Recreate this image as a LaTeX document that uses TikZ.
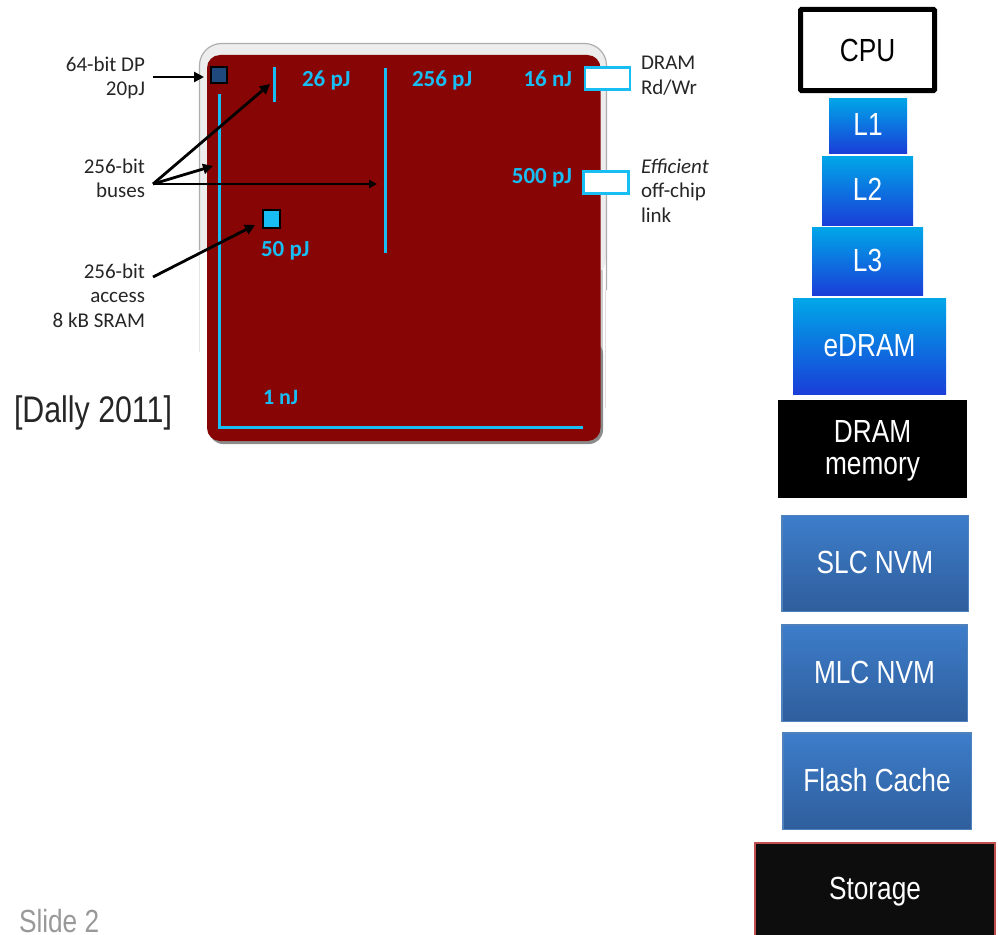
\documentclass[tikz,border=0pt]{standalone}
\usepackage{fontspec}
\setmainfont{Liberation Sans}
\newfontfamily\narrowfont[FakeStretch=0.82]{Liberation Sans}
\newfontfamily\calfont{Carlito}
\usetikzlibrary{arrows.meta}
\definecolor{chipred}{HTML}{870505}
\definecolor{busblue}{HTML}{18BDF4}
\definecolor{gradtop}{HTML}{00A7E8}
\definecolor{gradbot}{HTML}{1A3ED8}
\definecolor{nvmtop}{HTML}{3D7DCA}
\definecolor{nvmbot}{HTML}{2F5E9C}
\definecolor{nvmedge}{HTML}{4F81BD}
\definecolor{dpblue}{HTML}{1F497D}
\definecolor{storeedge}{HTML}{C0504D}
\definecolor{storefill}{HTML}{0D0D0D}
\newcommand{\liftup}[1]{\raisebox{2pt}{#1}}
\tikzset{
  x=1pt,y=-1pt,
  every node/.style={inner sep=0pt,outer sep=0pt},
  stackbox/.style={minimum width=#1,font=\narrowfont\fontsize{32}{33}\selectfont,align=center},
  cachebox/.style={stackbox=#1,top color=gradtop,bottom color=gradbot,text=white},
  nvmbox/.style={stackbox=#1,top color=nvmtop,bottom color=nvmbot,draw=nvmedge,line width=1.5pt,text=white},
  sidelabel/.style={font=\calfont\fontsize{21}{24.5}\selectfont,text=black!85},
  energy/.style={font=\calfont\bfseries\fontsize{23}{24}\selectfont,text=busblue},
  busline/.style={draw=busblue,line width=3pt},
  pinbox/.style={draw=busblue,line width=2.5pt,fill=white},
  ptr/.style={draw=black,line width=2.8pt,-{Stealth[length=10pt,width=10pt,inset=0pt]}},
  ptrthin/.style={draw=black,line width=2pt,-{Stealth[length=8pt,width=8pt,inset=0pt]}},
}
\begin{document}
\begin{tikzpicture}
\useasboundingbox (0,0) rectangle (998,934);
\clip (0,0) rectangle (998,934);
% chip
\fill[black!7,rounded corners=22pt] (200,280) -- (200,44) -- (606,44) -- (606,280) -- cycle;
\draw[black!32,line width=1.2pt,rounded corners=22pt] (199.5,250) -- (199.5,43.5) -- (606.5,43.5) -- (606.5,290);
\fill[white] (198,250) rectangle (207,300);
\draw[black!10,line width=1.5pt] (199.5,250) -- (199.5,352);
\draw[black!12,line width=1pt] (605.5,290) -- (605.5,408);
\fill[black!20] (600,270) rectangle (603,360);
\fill[black!45,rounded corners=14pt] (209,340) rectangle (603,444);
\fill[chipred,rounded corners=13pt] (207,55) rectangle (600.5,441);
% buses
\coordinate (busAtop) at (219,94);
\coordinate (busAcorner) at (219,427);
\coordinate (busAend) at (583,427);
\coordinate (busBtop) at (274,67);
\coordinate (busBend) at (274,102);
\coordinate (busCtop) at (385,68);
\coordinate (busCend) at (385,253);
\draw[busline,line cap=butt,line join=miter] (busAtop) -- (busAcorner) -- (busAend);
\draw[busline] (busBtop) -- (busBend);
\draw[busline] (busCtop) -- (busCend);
% blocks
\node[draw=black,line width=2pt,fill=dpblue,minimum width=16pt,minimum height=16pt] (dp) at (219,75) {};
\node[draw=black,line width=2pt,fill=busblue,minimum width=17pt,minimum height=18pt] (sram) at (271,218.5) {};
\node[pinbox,minimum width=45pt,minimum height=22pt] (dram) at (607.5,78.5) {};
\node[pinbox,minimum width=45pt,minimum height=22pt] (link) at (606,182.5) {};
% energy labels
\node[energy,anchor=base west] (e26) at (302,86) {26 pJ};
\node[energy,anchor=base west] (e256) at (412,86) {256 pJ};
\node[energy,anchor=base east] (e16) at (572,86) {16 nJ};
\node[energy,anchor=base east] (e500) at (572,183) {500 pJ};
\node[energy,anchor=base west] (e50) at (261,256) {50 pJ};
\node[energy,anchor=base west,font=\calfont\bfseries\fontsize{22}{24}\selectfont] (e1) at (263,404) {1 nJ};
% side labels
\node[sidelabel,align=right,anchor=north east] (l64) at (145,56.5) {64-bit DP\\20pJ};
\node[sidelabel,align=right,anchor=north east] (lbus) at (145,158.5) {256-bit\\buses};
\node[sidelabel,align=right,anchor=north east] (lacc) at (145,263.5) {256-bit\\access\\8 kB SRAM};
\node[sidelabel,align=left,anchor=north west] (ldram) at (641,56.5) {DRAM\\Rd/Wr};
\node[sidelabel,align=left,anchor=north west] (llink) at (641,158.5) {\itshape Efficient\\off-chip\\link};
\node[font=\narrowfont\fontsize{37}{38}\selectfont,text=black!85,anchor=base west] (dally) at (14,422) {[Dally 2011]};
\node[font=\narrowfont\fontsize{32}{33}\selectfont,text=black!40,anchor=base west] (slide) at (19,932.5) {Slide 2};
% arrows
\coordinate (s64) at (153,77);
\coordinate (t64) at (204,77);
\coordinate (sbus) at (153,184);
\coordinate (tbusB) at (270,84);
\coordinate (tbusA) at (213,166);
\coordinate (tbusC) at (377,184);
\coordinate (sacc) at (153,277);
\coordinate (tacc) at (255,225);
\draw[ptr] (s64) -- (t64);
\draw[ptr] (sbus) -- (tbusB);
\draw[ptr] (sbus) -- (tbusA);
\draw[ptrthin] (sbus) -- (tbusC);
\draw[ptr] (sacc) -- (tacc);
% stack
\node[stackbox=134pt,draw=black,line width=5pt,fill=white,minimum height=81pt,text=black,rounded corners=1pt] (cpu) at (867.5,50) {\raisebox{-1pt}{CPU}};
\node[cachebox=78pt,minimum height=55pt] (l1) at (868,125.5) {\liftup{L1}};
\node[cachebox=91pt,minimum height=69pt] (l2) at (867.5,190.5) {\liftup{L2}};
\node[cachebox=111pt,minimum height=68pt] (l3) at (867.5,261) {\liftup{L3}};
\node[cachebox=153pt,minimum height=96pt] (edram) at (869.5,346) {\liftup{eDRAM}};
\node[stackbox=189pt,fill=black,minimum height=98pt] (mem) at (872.5,449) {};
\node[font=\narrowfont\fontsize{32}{32}\selectfont,text=white,align=center] (memtext) at (872.5,451) {DRAM\\memory};
\node[nvmbox=186.5pt,minimum height=96pt] (slc) at (875,563.5) {\liftup{SLC NVM}};
\node[nvmbox=185.5pt,minimum height=96.5pt] (mlc) at (874.5,673) {\liftup{MLC NVM}};
\node[nvmbox=188.5pt,minimum height=96.5pt] (flash) at (877,781) {\liftup{Flash Cache}};
\node[stackbox=240pt,fill=storefill,draw=storeedge,line width=2pt,minimum height=130pt] (store) at (875,908) {};
\node[font=\narrowfont\fontsize{32}{33}\selectfont,text=white] (storetext) at (875,892) {Storage};
\end{tikzpicture}
\end{document}
